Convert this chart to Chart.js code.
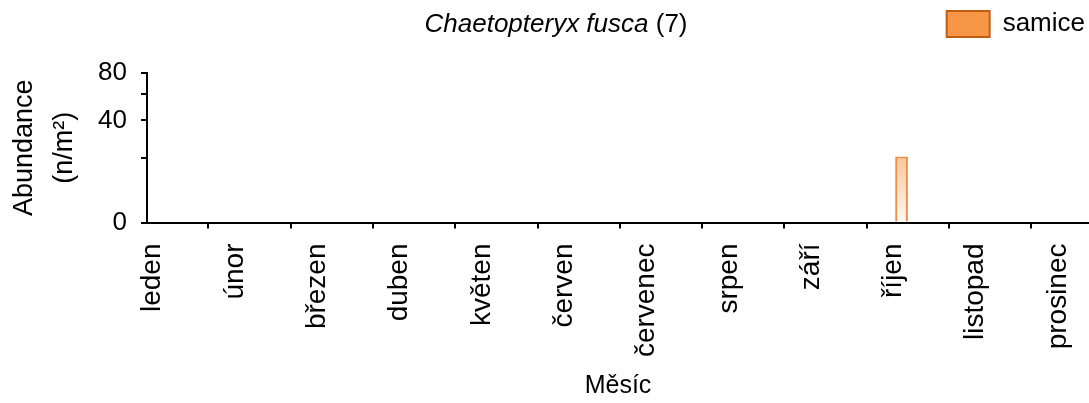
<!DOCTYPE html>
<html lang="cs">
<head>
<meta charset="utf-8">
<title>Chaetopteryx fusca – abundance</title>
<script src="https://cdn.jsdelivr.net/npm/chart.js@4.4.1/dist/chart.umd.min.js"></script>
<style>
  html, body { margin: 0; padding: 0; background: #fff; overflow: hidden; }
  canvas { display: block; }
</style>
</head>
<body>
<canvas id="chart" width="1089" height="403"></canvas>
<script>
// ---- data ----
const months = ['leden', 'únor', 'březen', 'duben', 'květen', 'červen',
                'červenec', 'srpen', 'září', 'říjen', 'listopad', 'prosinec'];
const femaleAbundance = [0, 0, 0, 0, 0, 0, 0, 0, 0, 20.7, 0, 0];   // samice, n/m²
const maleAbundance   = [0, 0, 0, 0, 0, 0, 0, 0, 0, 0, 0, 0];      // samci, n/m²
const seriesNames = ['samice', 'samci'];
const yTickValues = [0, 20, 40, 60, 80];
const yTickLabels = ['0', '', '40', '', '80'];
const speciesName = 'Chaetopteryx fusca';
const specimenCount = '(7)';

const FONT = "'Liberation Sans', Arial, Helvetica, sans-serif";
Chart.defaults.font.family = FONT;
Chart.defaults.color = '#000';

// Abundance axis: logarithm of (value + shift), so small counts stay readable
const LOG_SHIFT = 20;
class ShiftedLogScale extends Chart.LinearScale {
  static id = 'shiftedLog';
  _tf(v) { return Math.log(v + LOG_SHIFT); }
  getPixelForValue(value) {
    if (value === null || value === undefined || isNaN(value)) return NaN;
    const a = this._tf(this.min), b = this._tf(this.max);
    return this.getPixelForDecimal((this._tf(value) - a) / (b - a));
  }
  getValueForPixel(pixel) {
    const a = this._tf(this.min), b = this._tf(this.max);
    return Math.exp(a + this.getDecimalForPixel(pixel) * (b - a)) - LOG_SHIFT;
  }
}

// Month axis whose visible window may start/end part-way through a category
class WindowCategoryScale extends Chart.CategoryScale {
  static id = 'windowCategory';
  buildTicks() {
    const ticks = super.buildTicks();
    const { viewStart, viewEnd } = this.options;
    if (viewStart !== undefined && viewEnd !== undefined) {
      this._startValue = viewStart;
      this._valueRange = viewEnd - viewStart;
    }
    return ticks;
  }
}
Chart.register(ShiftedLogScale, WindowCategoryScale);

// Header line: italic species name with specimen count, and the series key
// (only series with at least one record are listed) at the right edge.
const speciesHeader = {
  id: 'speciesHeader',
  afterDraw(chart, args, opts) {
    const ctx = chart.ctx;
    ctx.save();
    ctx.fillStyle = '#000';
    ctx.textBaseline = 'middle';
    ctx.textAlign = 'left';

    // heading
    const italic = `italic ${opts.size}px ${FONT}`;
    const upright = `${opts.size}px ${FONT}`;
    const name = opts.name + ' ';
    ctx.font = italic;
    const w1 = ctx.measureText(name).width;
    ctx.font = upright;
    const w2 = ctx.measureText(opts.count).width;
    const hx = opts.centerX - (w1 + w2) / 2;
    ctx.font = italic;
    ctx.fillText(name, hx, opts.y);
    ctx.font = upright;
    ctx.fillText(opts.count, hx + w1, opts.y);

    // key
    const k = opts.key;
    ctx.font = `${k.size}px ${FONT}`;
    let right = chart.width - k.rightPad;
    const shown = chart.data.datasets.filter(ds => ds.data.some(v => v > 0));
    for (let i = shown.length - 1; i >= 0; i--) {
      const ds = shown[i];
      const tw = ctx.measureText(ds.label).width;
      const bx = right - tw - k.gap - k.boxWidth;
      ctx.fillStyle = k.fill;
      ctx.fillRect(bx, k.boxTop, k.boxWidth, k.boxHeight);
      ctx.strokeStyle = k.stroke;
      ctx.lineWidth = 2;
      ctx.strokeRect(bx, k.boxTop, k.boxWidth, k.boxHeight);
      ctx.fillStyle = '#000';
      ctx.fillText(ds.label, bx + k.boxWidth + k.gap, k.boxTop + k.boxHeight / 2);
      right = bx - k.itemGap;
    }
    ctx.restore();
  }
};

function barFill(c) {
  const chart = c.chart;
  const y = chart.scales && chart.scales.y;
  if (!chart.chartArea || !y || typeof c.raw !== 'number' || c.raw <= 0) {
    return 'rgba(247,150,70,0.3)';
  }
  const top = y.getPixelForValue(c.raw);
  const base = y.getPixelForValue(0);
  const g = chart.ctx.createLinearGradient(0, top, 0, base);
  g.addColorStop(0, 'rgba(247,150,70,0.55)');
  g.addColorStop(1, 'rgba(247,150,70,0.06)');
  return g;
}

new Chart(document.getElementById('chart'), {
  type: 'bar',
  data: {
    labels: months,
    datasets: [
      {
        label: seriesNames[0],
        data: femaleAbundance,
        backgroundColor: barFill,
        borderColor: 'rgba(232,125,45,0.85)',
        borderWidth: c => (typeof c.raw === 'number' && c.raw > 0 ? 2 : 0),
        categoryPercentage: 0.31,
        barPercentage: 1.0
      },
      {
        label: seriesNames[1],
        data: maleAbundance,
        backgroundColor: 'rgba(80,80,80,0.5)',
        borderWidth: 0,
        categoryPercentage: 0.31,
        barPercentage: 1.0
      }
    ]
  },
  options: {
    responsive: false,
    animation: false,
    devicePixelRatio: 1,
    events: [],
    layout: { padding: { top: 0, right: 0, bottom: 0, left: 0 } },
    plugins: {
      tooltip: { enabled: false },
      title: { display: false },
      legend: { display: false },
      speciesHeader: {
        name: speciesName,
        count: specimenCount,
        size: 26,
        centerX: 556,
        y: 25,
        key: {
          size: 26,
          boxWidth: 43,
          boxHeight: 26,
          boxTop: 11,
          gap: 13,
          itemGap: 20,
          rightPad: 4,
          fill: '#F79646',
          stroke: '#C55A11'
        }
      }
    },
    scales: {
      x: {
        type: 'windowCategory',
        viewStart: -0.245,
        viewEnd: 11.2,
        offset: true,
        grid: { offset: true, drawOnChartArea: false, drawTicks: true, tickLength: 6, color: '#000', lineWidth: 2 },
        border: { color: '#000', width: 2 },
        ticks: {
          minRotation: 90, maxRotation: 90, autoSkip: false,
          padding: 15, labelOffset: -14.5,
          color: '#000', font: { size: 28 }
        },
        title: { display: true, text: 'Měsíc', color: '#000', font: { size: 25 }, padding: { top: 0, bottom: 2 } },
        afterFit: s => { s.height = 180.5; s.paddingLeft = 0; s.paddingRight = 0; }
      },
      y: {
        type: 'shiftedLog',
        min: 0,
        max: 80,
        afterBuildTicks: s => { s.ticks = yTickValues.map(v => ({ value: v })); },
        grid: { drawOnChartArea: false, drawTicks: true, tickLength: 6, color: '#000', lineWidth: 2 },
        border: { color: '#000', width: 2 },
        ticks: {
          padding: 14, color: '#000', font: { size: 26 },
          callback: (v, i) => yTickLabels[i]
        },
        title: {
          display: true,
          text: ['Abundance', '(n/m²)'],
          color: '#000',
          font: { size: 27, lineHeight: 1.5 },
          padding: { top: 4, bottom: 0 }
        },
        afterFit: s => { s.width = 147; s.paddingTop = 73; s.paddingBottom = 0; }
      }
    }
  },
  plugins: [speciesHeader]
});
</script>
</body>
</html>
